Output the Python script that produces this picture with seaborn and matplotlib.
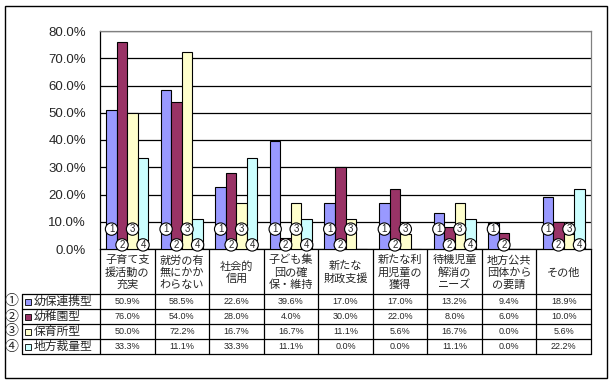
import matplotlib
matplotlib.use("Agg")
import matplotlib.pyplot as plt
from matplotlib.patches import Rectangle
from matplotlib.ticker import FuncFormatter
import pandas as pd
import seaborn as sns

categories = ["子育て支\n援活動の\n充実", "就労の有\n無にかか\nわらない", "社会的\n信用",
              "子ども集\n団の確\n保・維持", "新たな\n財政支援", "新たな利\n用児童の\n獲得",
              "待機児童\n解消の\nニーズ", "地方公共\n団体から\nの要請", "その他"]
series = ["幼保連携型", "幼稚園型", "保育所型", "地方裁量型"]
marks = ["①", "②", "③", "④"]
youho = [50.9, 58.5, 22.6, 39.6, 17.0, 17.0, 13.2, 9.4, 18.9]
youchien = [76.0, 54.0, 28.0, 4.0, 30.0, 22.0, 8.0, 6.0, 10.0]
hoiku = [50.0, 72.2, 16.7, 16.7, 11.1, 5.6, 16.7, 0.0, 5.6]
chihou = [33.3, 11.1, 33.3, 11.1, 0.0, 0.0, 11.1, 0.0, 22.2]
colors = ["#9999FF", "#993366", "#FFFFCC", "#CCFFFF"]

values = [youho, youchien, hoiku, chihou]
df = pd.DataFrame({
    "cat": categories * 4,
    "type": [s for s in series for _ in categories],
    "val": youho + youchien + hoiku + chihou,
})

sns.set_style("white")
plt.rcParams["font.family"] = ["Liberation Sans", "Noto Sans CJK JP"]

W, H = 613, 385
L, R, TOP, BASE = 100, 591, 31, 249
fig = plt.figure(figsize=(W / 100, H / 100), dpi=100)

# overlay in pixel coordinates for the table and frame
ov = fig.add_axes([0, 0, 1, 1])
ov.set_xlim(0, W)
ov.set_ylim(H, 0)
ov.axis("off")

ax = fig.add_axes([L / W, (H - BASE) / H, (R - L) / W, (BASE - TOP) / H])
sns.barplot(data=df, x="cat", y="val", hue="type", order=categories, hue_order=series,
            palette=colors, saturation=1, edgecolor="black", linewidth=0.8,
            width=0.77, gap=0, legend=False, ax=ax, zorder=3)
ax.set_ylim(0, 80)
ax.set_yticks(range(0, 81, 10))
ax.yaxis.set_major_formatter(FuncFormatter(lambda v, p: f"{v:.1f}%"))
ax.tick_params(axis="y", length=0, pad=10, labelsize=9.5)
ax.tick_params(axis="x", length=0, labelbottom=False)
ax.set_xlabel("")
ax.set_ylabel("")
ax.yaxis.grid(True, color="black", lw=0.9)
ax.set_axisbelow(True)
for s in ["left", "bottom"]:
    ax.spines[s].set_color("black")
    ax.spines[s].set_linewidth(0.9)
for s in ["top", "right"]:
    ax.spines[s].set_color("gray")
    ax.spines[s].set_linewidth(0.9)

# circled series numbers inside bars
for k, cont in enumerate(ax.containers):
    for bar in cont:
        if bar.get_height() > 0:
            y = 7.3 if k % 2 == 0 else 1.5
            ax.text(bar.get_x() + bar.get_width() / 2, y, str(k + 1), ha="center", va="center",
                    fontsize=7, zorder=6, clip_on=False,
                    bbox=dict(boxstyle="circle,pad=0.12", fc="white", ec="black", lw=0.8))

# data table
cw = (R - L) / len(categories)
head_bottom, row_h = 294, 15
bottom = head_bottom + row_h * len(series)
for i in range(len(categories) + 1):
    ov.plot([L + i * cw] * 2, [BASE, bottom], color="black", lw=0.9)
ov.plot([22, 22], [head_bottom, bottom], color="black", lw=0.9)
for j in range(len(series) + 1):
    ov.plot([22, R], [head_bottom + j * row_h] * 2, color="black", lw=0.9)

for i, cat in enumerate(categories):
    ov.text(L + (i + 0.5) * cw, (BASE + head_bottom) / 2 + 1, cat, ha="center", va="center",
            fontsize=8, linespacing=1.25)

for j, name in enumerate(series):
    yc = head_bottom + (j + 0.5) * row_h
    ov.text(11, yc, marks[j], ha="center", va="center", fontsize=10)
    ov.add_patch(Rectangle((25, yc - 3), 6, 6, fc=colors[j], ec="black", lw=0.6))
    ov.text(34, yc, name, ha="left", va="center", fontsize=8.5)
    for i, v in enumerate(values[j]):
        ov.text(L + (i + 0.5) * cw, yc, f"{v:.1f}%", ha="center", va="center", fontsize=6.5)

ov.add_patch(Rectangle((5, 6), 602, 372, fill=False, ec="black", lw=1))

fig.savefig("out.png", dpi=100)
